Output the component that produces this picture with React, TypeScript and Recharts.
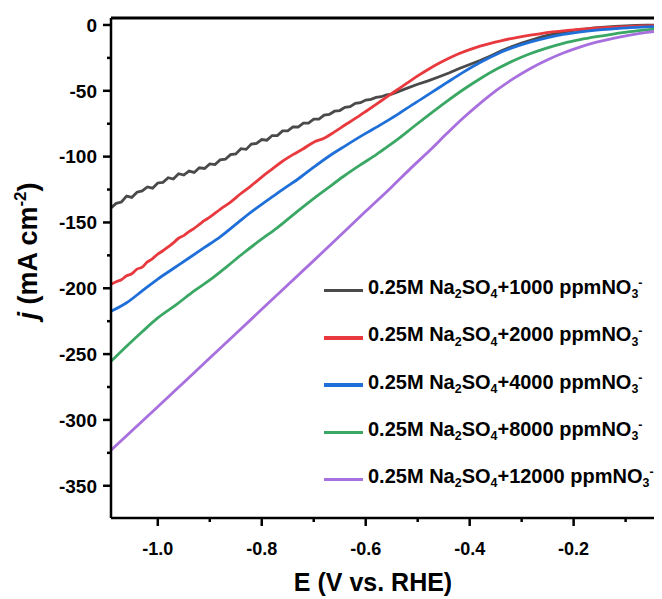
import React from "react";
import { LineChart, Line, XAxis, YAxis, Legend, ReferenceLine } from "recharts";

const FONT = "'Liberation Sans', Arial, Helvetica, sans-serif";

const concentrations = [1000, 2000, 4000, 8000, 12000];
const colors = ["#4a4a4a", "#e8393e", "#1f6fd8", "#3aa864", "#a870de"];

const xTicks = [-1.0, -0.9, -0.8, -0.7, -0.6, -0.5, -0.4, -0.3, -0.2, -0.1];
const yTicks = [0, -25, -50, -75, -100, -125, -150, -175, -200, -225, -250, -275, -300, -325, -350];

const X_DOMAIN = [-1.09, -0.03];
const Y_DOMAIN = [-374.5, 5.3];

// [E (V vs RHE), j (mA cm-2)]
const ppm1000 = [
  [-1.09, -139], [-1.08, -135.5], [-1.07, -134.5], [-1.06, -130], [-1.05, -131], [-1.04, -127],
  [-1.03, -126], [-1.02, -123], [-1.01, -124], [-1.0, -120], [-0.99, -119.5], [-0.98, -116],
  [-0.97, -117], [-0.96, -113], [-0.95, -114], [-0.94, -111], [-0.93, -112], [-0.92, -108.5],
  [-0.91, -109], [-0.9, -105.5], [-0.89, -106], [-0.88, -102.5], [-0.87, -102], [-0.86, -98.5],
  [-0.85, -98], [-0.84, -94], [-0.83, -94.5], [-0.82, -90.5], [-0.81, -90], [-0.8, -87],
  [-0.79, -87.5], [-0.78, -84], [-0.77, -84], [-0.76, -80.5], [-0.75, -80.5], [-0.74, -77.5],
  [-0.73, -77.5], [-0.72, -74.5], [-0.71, -74.5], [-0.7, -71.5], [-0.69, -71.5], [-0.68, -68.5],
  [-0.67, -68], [-0.66, -65.5], [-0.65, -65], [-0.64, -62.5], [-0.63, -62], [-0.62, -59.5],
  [-0.61, -59], [-0.6, -57], [-0.59, -56.5], [-0.58, -55], [-0.57, -54.5], [-0.56, -53],
  [-0.55, -52.5], [-0.54, -51], [-0.52, -48], [-0.5, -45], [-0.48, -42.5], [-0.46, -39.5],
  [-0.44, -36.5], [-0.42, -33], [-0.4, -30], [-0.38, -27], [-0.36, -23.5], [-0.34, -19.8],
  [-0.32, -16.6], [-0.3, -13.7], [-0.28, -11.2], [-0.26, -8.9], [-0.24, -7], [-0.22, -5.4],
  [-0.2, -4.1], [-0.18, -3.1], [-0.16, -2.3], [-0.14, -1.6], [-0.12, -1.1], [-0.1, -0.7],
  [-0.08, -0.4], [-0.06, -0.2], [-0.03, 0],
];

const ppm2000 = [
  [-1.09, -197], [-1.08, -195], [-1.07, -193.5], [-1.06, -190.5], [-1.05, -189], [-1.04, -185.5],
  [-1.03, -184], [-1.02, -180], [-1.01, -177.5], [-1.0, -174], [-0.99, -171.5], [-0.98, -168.5],
  [-0.97, -165.5], [-0.96, -162], [-0.95, -160], [-0.94, -157], [-0.93, -154.5], [-0.92, -151.5],
  [-0.91, -148.5], [-0.9, -146], [-0.88, -140], [-0.86, -134.5], [-0.84, -128], [-0.82, -122],
  [-0.8, -115.5], [-0.78, -109.5], [-0.76, -103.5], [-0.74, -98.5], [-0.72, -94], [-0.7, -89],
  [-0.68, -86], [-0.66, -81.2], [-0.64, -76], [-0.62, -71], [-0.6, -65.7], [-0.58, -60.3],
  [-0.56, -54.8], [-0.54, -49.4], [-0.52, -44], [-0.5, -38.7], [-0.48, -33.8], [-0.46, -29.3],
  [-0.44, -25.3], [-0.42, -21.7], [-0.4, -18.7], [-0.38, -16.1], [-0.36, -13.9], [-0.34, -12],
  [-0.32, -10.3], [-0.3, -8.8], [-0.28, -7.5], [-0.26, -6.3], [-0.24, -5.3], [-0.22, -4.4],
  [-0.2, -3.7], [-0.18, -3.1], [-0.16, -2.5], [-0.14, -2], [-0.12, -1.6], [-0.1, -1.2],
  [-0.08, -0.9], [-0.06, -0.7], [-0.03, -0.4],
];

const ppm4000 = [
  [-1.09, -217.5], [-1.06, -211], [-1.03, -202], [-1.0, -193], [-0.97, -185], [-0.94, -177],
  [-0.91, -169], [-0.88, -161], [-0.85, -151.5], [-0.82, -142], [-0.79, -133.5], [-0.76, -125],
  [-0.73, -117], [-0.7, -108], [-0.67, -99.5], [-0.64, -92], [-0.605, -83.5], [-0.57, -75.5],
  [-0.54, -68.3], [-0.51, -60.5], [-0.476, -52], [-0.444, -43.8], [-0.412, -35.8], [-0.38, -28.5],
  [-0.348, -22.2], [-0.316, -17], [-0.284, -13], [-0.252, -9.8], [-0.22, -7.2], [-0.19, -5.4],
  [-0.156, -3.9], [-0.12, -2.8], [-0.092, -2], [-0.06, -1.4], [-0.03, -1],
];

const ppm8000 = [
  [-1.09, -255.5], [-1.06, -244], [-1.03, -233], [-1.0, -222.5], [-0.963, -212], [-0.93, -202],
  [-0.899, -193.5], [-0.867, -183.5], [-0.835, -173.2], [-0.803, -163.5], [-0.771, -154.3],
  [-0.739, -144], [-0.707, -134], [-0.675, -124.5], [-0.643, -115.1], [-0.611, -106.5],
  [-0.579, -98.3], [-0.56, -93], [-0.54, -87.3], [-0.508, -77.3], [-0.476, -67.5], [-0.444, -58],
  [-0.412, -49], [-0.38, -40.8], [-0.348, -33.5], [-0.316, -27.2], [-0.284, -21.9], [-0.252, -17.6],
  [-0.22, -14], [-0.188, -11.2], [-0.156, -8.9], [-0.124, -6.9], [-0.092, -5.1], [-0.06, -3.7],
  [-0.03, -2.6],
];

const ppm12000 = [
  [-1.09, -323], [-1.0, -290], [-0.9, -253], [-0.8, -216], [-0.7, -179], [-0.6, -141.5],
  [-0.55, -123], [-0.515, -109.5], [-0.476, -95], [-0.444, -82.5], [-0.412, -70.5], [-0.38, -59.5],
  [-0.348, -49.5], [-0.316, -40.8], [-0.284, -33.2], [-0.252, -26.8], [-0.22, -21.3], [-0.188, -16.8],
  [-0.156, -13.1], [-0.124, -10.1], [-0.092, -7.7], [-0.06, -5.7], [-0.03, -4.3],
];

const seriesData = [ppm1000, ppm2000, ppm4000, ppm8000, ppm12000];

const toPoints = (rows: number[][]) => rows.map(([e, j]) => ({ e, j }));

function YTick(props: any) {
  const { x, y, payload } = props;
  const v = payload.value;
  const major = v % 50 === 0;
  return (
    <g>
      <line x1={x} x2={x - (major ? 8 : 4)} y1={y} y2={y} stroke="#000" strokeWidth={2.5} />
      {major && (
        <text x={x - 14} y={y} dy="0.36em" textAnchor="end" fontFamily={FONT} fontWeight={700} fontSize={19} fill="#000">
          {v}
        </text>
      )}
    </g>
  );
}

function XTick(props: any) {
  const { x, y, payload } = props;
  const v = payload.value;
  const major = Math.round(v * 10) % 2 === 0;
  return (
    <g>
      <line x1={x} x2={x} y1={y} y2={y + (major ? 8 : 4)} stroke="#000" strokeWidth={2.5} />
      {major && (
        <text x={x} y={y + 37} textAnchor="middle" fontFamily={FONT} fontWeight={700} fontSize={18} fill="#000">
          {v.toFixed(1)}
        </text>
      )}
    </g>
  );
}

function YTitle() {
  return (
    <text transform="translate(29,243) rotate(-90)" textAnchor="middle" fontFamily={FONT} fontWeight={700} fontSize={27} fill="#000">
      <tspan fontStyle="italic">j</tspan> (mA cm<tspan dy={-11} fontSize={17}>-2</tspan>
      <tspan dy={11}>)</tspan>
    </text>
  );
}

function XTitle() {
  return (
    <text x={365} y={583} textAnchor="middle" fontFamily={FONT} fontWeight={700} fontSize={25} fill="#000">
      E (V vs. RHE)
    </text>
  );
}

const Sub = ({ children }: any) => (
  <span style={{ fontSize: "0.62em", position: "relative", top: "0.35em" }}>{children}</span>
);
const Sup = ({ children }: any) => (
  <span style={{ fontSize: "0.62em", position: "relative", top: "-0.55em" }}>{children}</span>
);

function LegendBox() {
  return (
    <div style={{ fontFamily: FONT, fontWeight: 700, fontSize: 20, color: "#000" }}>
      {concentrations.map((c, i) => (
        <div key={c} style={{ height: 47.25, display: "flex", alignItems: "center", whiteSpace: "nowrap" }}>
          <span
            style={{
              display: "inline-block",
              width: 39,
              height: 3.5,
              background: colors[i],
              marginRight: 5,
              position: "relative",
              top: 3,
            }}
          />
          <span>
            0.25M Na<Sub>2</Sub>SO<Sub>4</Sub>+{c} ppmNO<Sub>3</Sub>
            <Sup>-</Sup>
          </span>
        </div>
      ))}
    </div>
  );
}

export default function App() {
  return (
    <LineChart width={654} height={591} margin={{ top: 10, right: 0, bottom: 0, left: 0 }}>
      <XAxis
        dataKey="e"
        type="number"
        domain={X_DOMAIN}
        allowDataOverflow
        ticks={xTicks}
        interval={0}
        height={81}
        tickSize={0}
        tickMargin={0}
        tickLine={false}
        tick={<XTick />}
        axisLine={{ stroke: "#000", strokeWidth: 2.5 }}
        label={<XTitle />}
      />
      <YAxis
        dataKey="j"
        type="number"
        domain={Y_DOMAIN}
        allowDataOverflow
        ticks={yTicks}
        interval={0}
        width={103}
        tickSize={0}
        tickMargin={0}
        tickLine={false}
        tick={<YTick />}
        axisLine={{ stroke: "#000", strokeWidth: 2.5 }}
        label={<YTitle />}
      />
      <ReferenceLine y={Y_DOMAIN[1]} stroke="#000" strokeWidth={3} ifOverflow="visible" />
      {seriesData.map((rows, i) => (
        <Line
          key={concentrations[i]}
          data={toPoints(rows)}
          dataKey="j"
          name={`${concentrations[i]}`}
          type={i === 0 ? "linear" : "monotone"}
          stroke={colors[i]}
          strokeWidth={2.8}
          dot={false}
          isAnimationActive={false}
        />
      ))}
      <Legend
        layout="horizontal"
        verticalAlign="middle"
        align="center"
        content={<LegendBox />}
        wrapperStyle={{ left: 316, top: 256, width: 345 }}
      />
    </LineChart>
  );
}
